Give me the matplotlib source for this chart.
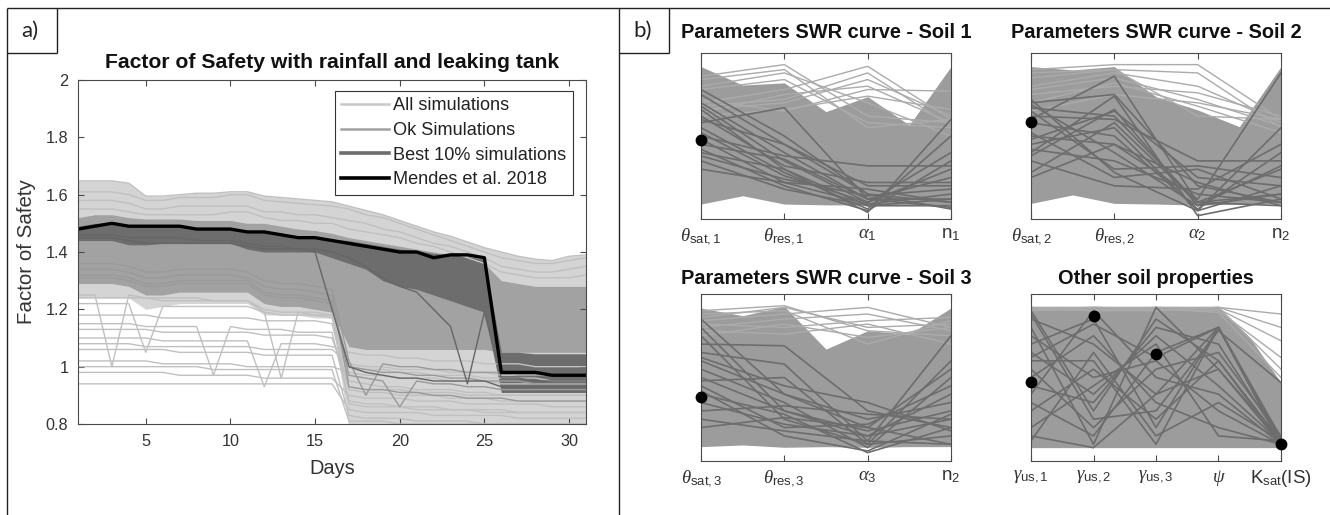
import matplotlib
matplotlib.use("Agg")
import matplotlib.pyplot as plt
from matplotlib.lines import Line2D

plt.rcParams['font.family'] = ['Liberation Sans', 'DejaVu Sans']
plt.rcParams['mathtext.fontset'] = 'custom'
plt.rcParams['mathtext.rm'] = 'Liberation Sans'
plt.rcParams['mathtext.it'] = 'Liberation Serif:italic'
plt.rcParams['mathtext.bf'] = 'Liberation Sans:bold'

# ---------------- data: panel a (factor of safety over 31 days) ----------------
days = list(range(1, 32))

mendes_2018 = [1.48, 1.49, 1.50, 1.49, 1.49, 1.49, 1.49, 1.48, 1.48, 1.48, 1.47,
               1.47, 1.46, 1.45, 1.45, 1.44, 1.43, 1.42, 1.41, 1.40, 1.40, 1.38,
               1.39, 1.39, 1.38, 0.98, 0.98, 0.98, 0.97, 0.97, 0.97]

all_upper = [1.648, 1.648, 1.648, 1.64, 1.595, 1.595, 1.60, 1.605, 1.605, 1.61, 1.61,
             1.595, 1.59, 1.585, 1.58, 1.575, 1.56, 1.545, 1.53, 1.51, 1.49, 1.47,
             1.455, 1.435, 1.415, 1.40, 1.385, 1.375, 1.37, 1.385, 1.39]
all_dense_lower = [1.24, 1.24, 1.24, 1.24, 1.20, 1.21, 1.22, 1.22, 1.22, 1.22, 1.22,
                   1.18, 1.18, 1.18, 1.17, 1.17, 0.78, 0.78, 0.78, 0.78, 0.78, 0.78,
                   0.78, 0.78, 0.78, 0.78, 0.78, 0.78, 0.78, 0.78, 0.78]

ok_upper = [1.52, 1.53, 1.53, 1.52, 1.515, 1.515, 1.515, 1.51, 1.51, 1.51, 1.50,
            1.50, 1.49, 1.48, 1.475, 1.465, 1.45, 1.44, 1.43, 1.42, 1.41, 1.40,
            1.39, 1.38, 1.36, 1.30, 1.29, 1.28, 1.28, 1.28, 1.28]
ok_lower = [1.29, 1.29, 1.29, 1.28, 1.25, 1.25, 1.26, 1.26, 1.26, 1.26, 1.26,
            1.22, 1.21, 1.21, 1.20, 1.19, 1.07, 1.06, 1.06, 1.06, 1.06, 1.06,
            1.06, 1.06, 1.06, 1.05, 1.05, 1.05, 1.05, 1.05, 1.05]

best_upper = [1.49, 1.50, 1.50, 1.495, 1.49, 1.49, 1.49, 1.485, 1.485, 1.485, 1.475,
              1.475, 1.465, 1.455, 1.455, 1.445, 1.44, 1.43, 1.42, 1.41, 1.405, 1.395,
              1.39, 1.385, 1.375, 1.05, 1.05, 1.045, 1.045, 1.045, 1.045]
best_lower = [1.44, 1.44, 1.44, 1.425, 1.425, 1.43, 1.43, 1.43, 1.43, 1.43, 1.41,
              1.40, 1.40, 1.40, 1.40, 1.38, 1.36, 1.34, 1.30, 1.28, 1.27, 1.25,
              1.23, 1.21, 1.19, 0.91, 0.91, 0.91, 0.91, 0.91, 0.91]

upper_runs = [
    [1.61, 1.61, 1.61, 1.60, 1.58, 1.58, 1.59, 1.59, 1.59, 1.60, 1.60, 1.58, 1.575, 1.57, 1.565, 1.56,
     1.55, 1.53, 1.52, 1.50, 1.48, 1.46, 1.44, 1.42, 1.40, 1.38, 1.37, 1.36, 1.36, 1.37, 1.38],
    [1.58, 1.58, 1.58, 1.57, 1.55, 1.55, 1.56, 1.56, 1.56, 1.56, 1.56, 1.54, 1.54, 1.53, 1.53, 1.52,
     1.51, 1.50, 1.48, 1.47, 1.45, 1.43, 1.42, 1.40, 1.38, 1.35, 1.34, 1.33, 1.33, 1.34, 1.35],
    [1.55, 1.55, 1.55, 1.54, 1.53, 1.53, 1.53, 1.53, 1.53, 1.54, 1.54, 1.52, 1.51, 1.51, 1.50, 1.50,
     1.48, 1.47, 1.46, 1.45, 1.43, 1.42, 1.40, 1.38, 1.36, 1.33, 1.32, 1.31, 1.31, 1.31, 1.32],
]

sparse_runs = [
    [1.25, 1.25, 1.00, 1.25, 1.24, 1.24, 1.24, 1.24, 1.23, 1.23, 1.23, 1.20, 1.19, 1.19, 1.19, 1.18,
     0.95, 0.94, 0.93, 0.93, 0.92, 0.92, 0.92, 0.91, 0.91, 0.90, 0.90, 0.90, 0.90, 0.90, 0.90],
    [1.22, 1.22, 1.22, 1.22, 1.05, 1.21, 1.21, 1.21, 1.21, 1.21, 1.21, 1.19, 1.18, 1.18, 1.18, 1.17,
     1.00, 0.99, 0.99, 0.98, 0.98, 0.97, 0.97, 0.97, 0.96, 0.96, 0.96, 0.96, 0.95, 0.95, 0.95],
    [1.15, 1.15, 1.15, 1.15, 1.14, 1.14, 1.14, 1.14, 0.97, 1.14, 1.13, 1.13, 1.13, 1.12, 1.12, 1.12,
     0.88, 0.87, 0.87, 0.86, 0.86, 0.86, 0.85, 0.85, 0.85, 0.85, 0.84, 0.84, 0.84, 0.84, 0.84],
    [1.10, 1.10, 1.10, 1.10, 1.10, 1.09, 1.09, 1.09, 1.09, 1.09, 1.09, 0.93, 1.08, 1.08, 1.08, 1.07,
     1.05, 1.04, 1.04, 1.03, 1.03, 1.02, 1.02, 1.02, 1.01, 1.01, 1.01, 1.00, 1.00, 1.00, 1.00],
    [1.06, 1.06, 1.06, 1.06, 1.06, 1.06, 1.05, 1.05, 1.05, 1.05, 1.05, 1.04, 1.04, 1.04, 1.04, 1.04,
     0.83, 0.82, 0.82, 0.82, 0.81, 0.81, 0.81, 0.81, 0.80, 0.80, 0.80, 0.80, 0.80, 0.80, 0.80],
    [1.02, 1.02, 1.02, 1.02, 1.02, 1.01, 1.01, 1.01, 1.01, 1.01, 1.00, 1.00, 1.00, 1.00, 1.00, 1.00,
     0.98, 0.97, 0.97, 0.96, 0.96, 0.96, 0.95, 0.95, 0.95, 0.94, 0.94, 0.94, 0.94, 0.94, 0.94],
    [0.98, 0.98, 0.98, 0.98, 0.98, 0.98, 0.97, 0.97, 0.97, 0.97, 0.97, 0.96, 0.96, 0.96, 0.96, 0.96,
     0.90, 0.89, 0.89, 0.89, 0.88, 0.88, 0.88, 0.87, 0.87, 0.87, 0.87, 0.87, 0.86, 0.86, 0.86],
    [0.94, 0.94, 0.94, 0.94, 0.94, 0.94, 0.94, 0.94, 0.94, 0.94, 0.94, 0.94, 0.94, 0.94, 0.94, 0.94,
     0.85, 0.84, 0.84, 0.84, 0.84, 0.83, 0.83, 0.83, 0.83, 0.83, 0.82, 0.82, 0.82, 0.82, 0.82],
    [1.18, 1.18, 1.18, 1.18, 1.18, 1.17, 1.17, 1.17, 1.17, 1.17, 1.17, 1.16, 1.16, 1.16, 1.16, 1.15,
     0.92, 0.91, 0.91, 0.90, 0.90, 0.90, 0.89, 0.89, 0.89, 0.88, 0.88, 0.88, 0.88, 0.88, 0.88],
    [1.08, 1.08, 1.08, 1.08, 1.07, 1.07, 1.07, 1.07, 1.07, 1.07, 1.07, 1.06, 1.06, 1.06, 1.06, 1.06,
     1.01, 1.00, 1.00, 0.99, 0.99, 0.99, 0.98, 0.98, 0.98, 0.97, 0.97, 0.97, 0.97, 0.97, 0.97],
    [1.00, 1.00, 1.00, 1.00, 1.00, 1.00, 1.00, 1.00, 0.99, 0.99, 0.99, 0.99, 0.99, 0.99, 0.99, 0.99,
     0.81, 0.81, 0.81, 0.80, 0.80, 0.80, 0.80, 0.80, 0.80, 0.80, 0.80, 0.80, 0.80, 0.80, 0.80],
    [1.24, 1.24, 1.24, 1.24, 1.24, 1.23, 1.23, 1.23, 1.23, 1.23, 1.23, 1.19, 0.96, 1.19, 1.18, 1.18,
     0.87, 0.86, 0.86, 0.86, 0.85, 0.85, 0.85, 0.85, 0.84, 0.84, 0.84, 0.84, 0.84, 0.84, 0.84],
    [1.13, 1.13, 1.13, 1.13, 1.13, 1.12, 1.12, 1.12, 1.12, 1.12, 1.12, 1.11, 1.11, 1.11, 1.11, 1.10,
     0.93, 0.92, 0.92, 0.92, 0.91, 0.91, 0.91, 0.90, 0.90, 0.90, 0.90, 0.90, 0.90, 0.90, 0.90],
]

ok_runs = [
    [1.31, 1.31, 1.31, 1.30, 1.28, 1.28, 1.29, 1.29, 1.29, 1.29, 1.29, 1.25, 1.24, 1.24, 1.23, 1.22,
     1.00, 0.99, 0.98, 0.98, 0.97, 0.97, 0.96, 0.96, 0.95, 0.95, 0.95, 0.94, 0.94, 0.94, 0.94],
    [1.34, 1.34, 1.34, 1.33, 1.31, 1.31, 1.32, 1.32, 1.32, 1.32, 1.31, 1.28, 1.27, 1.27, 1.26, 1.25,
     0.93, 0.92, 0.92, 0.91, 0.91, 0.90, 0.90, 0.89, 0.89, 0.89, 0.88, 0.88, 0.88, 0.88, 0.88],
    [1.36, 1.36, 1.36, 1.35, 1.33, 1.33, 1.34, 1.34, 1.34, 1.34, 1.33, 1.30, 1.29, 1.29, 1.28, 1.27,
     1.02, 0.90, 1.01, 1.00, 1.00, 0.99, 0.99, 0.98, 0.98, 0.98, 0.97, 0.97, 0.97, 0.97, 0.97],
    [1.32, 1.32, 1.32, 1.31, 1.29, 1.29, 1.30, 1.30, 1.30, 1.30, 1.30, 1.26, 1.25, 1.25, 1.24, 1.23,
     0.97, 0.96, 0.95, 0.86, 0.95, 0.94, 0.94, 0.93, 0.93, 0.92, 0.92, 0.92, 0.92, 0.92, 0.92],
]

best_runs = [
    [1.46, 1.46, 1.46, 1.45, 1.45, 1.45, 1.45, 1.44, 1.44, 1.44, 1.43, 1.42, 1.42, 1.41, 1.41, 1.40,
     1.38, 1.35, 1.31, 1.28, 1.26, 1.20, 1.14, 0.94, 1.19, 0.96, 0.96, 0.95, 0.95, 0.95, 0.95],
    [1.45, 1.45, 1.45, 1.44, 1.43, 1.43, 1.43, 1.43, 1.43, 1.43, 1.42, 1.41, 1.41, 1.41, 1.40, 1.20,
     1.00, 0.98, 0.97, 0.96, 0.96, 0.95, 0.95, 0.95, 0.95, 0.93, 0.93, 0.93, 0.93, 0.93, 0.93],
]

# ---------------- data: panel b (normalised parameter values) ----------------
env_x4 = [1, 1.5, 2, 2.5, 3, 3.5, 4]
env_x5 = [1, 1.5, 2, 2.5, 3, 3.5, 4, 4.5, 5]

soil1_labels = [r'$\theta_{\mathrm{sat,1}}$', r'$\theta_{\mathrm{res,1}}$', r'$\alpha_{1}$', r'$\mathrm{n}_{1}$']
soil1_upper = [0.918, 0.807, 0.82, 0.647, 0.737, 0.566, 0.918]
soil1_lower = [0.09, 0.14, 0.09, 0.085, 0.085, 0.085, 0.085]
soil1_all = [[0.86, 0.93, 0.62, 0.58], [0.84, 0.90, 0.55, 0.60], [0.80, 0.88, 0.70, 0.50],
             [0.78, 0.84, 0.58, 0.55], [0.70, 0.78, 0.92, 0.60], [0.68, 0.72, 0.88, 0.56],
             [0.66, 0.70, 0.84, 0.62], [0.64, 0.75, 0.80, 0.58], [0.72, 0.65, 0.78, 0.77],
             [0.62, 0.66, 0.74, 0.66]]
soil1_best = [[0.75, 0.45, 0.15, 0.10], [0.70, 0.40, 0.12, 0.12], [0.68, 0.35, 0.10, 0.30],
              [0.66, 0.30, 0.08, 0.08], [0.62, 0.32, 0.22, 0.22], [0.60, 0.45, 0.20, 0.20],
              [0.58, 0.67, 0.12, 0.07], [0.55, 0.28, 0.06, 0.50], [0.52, 0.26, 0.10, 0.40],
              [0.50, 0.38, 0.32, 0.32], [0.48, 0.22, 0.09, 0.15], [0.45, 0.36, 0.12, 0.25],
              [0.42, 0.20, 0.05, 0.35], [0.38, 0.24, 0.14, 0.18], [0.35, 0.18, 0.08, 0.12],
              [0.30, 0.22, 0.18, 0.10], [0.78, 0.50, 0.15, 0.06], [0.40, 0.30, 0.04, 0.60]]
soil1_mendes = [0.476, None, None, None]

soil2_labels = [r'$\theta_{\mathrm{sat,2}}$', r'$\theta_{\mathrm{res,2}}$', r'$\alpha_{2}$', r'$\mathrm{n}_{2}$']
soil2_upper = [0.918, 0.898, 0.918, 0.737, 0.657, 0.556, 0.918]
soil2_lower = [0.094, 0.145, 0.094, 0.09, 0.084, 0.09, 0.09]
soil2_all = [[0.90, 0.93, 0.93, 0.60], [0.85, 0.90, 0.88, 0.55], [0.80, 0.88, 0.80, 0.58],
             [0.78, 0.85, 0.72, 0.56], [0.75, 0.80, 0.76, 0.62], [0.70, 0.82, 0.68, 0.52],
             [0.65, 0.75, 0.70, 0.60], [0.88, 0.90, 0.62, 0.60]]
soil2_best = [[0.70, 0.75, 0.20, 0.10], [0.69, 0.40, 0.08, 0.15], [0.67, 0.62, 0.10, 0.30],
              [0.65, 0.30, 0.32, 0.25], [0.60, 0.86, 0.10, 0.08], [0.58, 0.50, 0.06, 0.40],
              [0.50, 0.45, 0.12, 0.88], [0.52, 0.25, 0.30, 0.12], [0.48, 0.65, 0.25, 0.20],
              [0.45, 0.55, 0.05, 0.55], [0.42, 0.35, 0.15, 0.10], [0.38, 0.66, 0.08, 0.32],
              [0.35, 0.20, 0.18, 0.45], [0.28, 0.58, 0.10, 0.15], [0.25, 0.45, 0.22, 0.08],
              [0.72, 0.28, 0.05, 0.20], [0.62, 0.60, 0.35, 0.35], [0.40, 0.74, 0.02, 0.12]]
soil2_mendes = [0.586, None, None, None]

soil3_labels = [r'$\theta_{\mathrm{sat,3}}$', r'$\theta_{\mathrm{res,3}}$', r'$\alpha_{3}$', r'$\mathrm{n}_{2}$']
soil3_upper = [0.916, 0.87, 0.926, 0.67, 0.78, 0.76, 0.916]
soil3_lower = [0.086, 0.096, 0.082, 0.086, 0.082, 0.086, 0.086]
soil3_all = [[0.86, 0.92, 0.80, 0.82], [0.88, 0.90, 0.70, 0.84], [0.84, 0.88, 0.92, 0.80],
             [0.80, 0.85, 0.88, 0.78], [0.82, 0.80, 0.84, 0.86], [0.78, 0.76, 0.82, 0.70],
             [0.75, 0.82, 0.74, 0.80], [0.90, 0.93, 0.78, 0.75]]
soil3_best = [[0.85, 0.40, 0.20, 0.10], [0.80, 0.30, 0.15, 0.25], [0.75, 0.25, 0.10, 0.60],
              [0.70, 0.69, 0.30, 0.20], [0.65, 0.58, 0.12, 0.75], [0.60, 0.40, 0.25, 0.35],
              [0.55, 0.35, 0.08, 0.50], [0.50, 0.30, 0.18, 0.30], [0.48, 0.50, 0.10, 0.15],
              [0.45, 0.20, 0.22, 0.45], [0.40, 0.28, 0.05, 0.20], [0.35, 0.22, 0.15, 0.40],
              [0.30, 0.33, 0.28, 0.25], [0.25, 0.18, 0.12, 0.10], [0.20, 0.26, 0.20, 0.55],
              [0.62, 0.45, 0.35, 0.18], [0.42, 0.15, 0.06, 0.28]]
soil3_mendes = [0.382, None, None, None]

other_labels = [r'$\gamma_{\mathrm{us,1}}$', r'$\gamma_{\mathrm{us,2}}$', r'$\gamma_{\mathrm{us,3}}$',
                r'$\psi$', r'$\mathrm{K}_{\mathrm{sat}}\mathrm{(IS)}$']
other_upper = [0.92, 0.92, 0.92, 0.92, 0.92, 0.92, 0.92, 0.74, 0.47]
other_lower = [0.08, 0.08, 0.08, 0.08, 0.08, 0.08, 0.08, 0.08, 0.08]
other_all = [[0.92, 0.92, 0.92, 0.92, 0.88], [0.90, 0.91, 0.90, 0.92, 0.80],
             [0.91, 0.90, 0.92, 0.91, 0.72], [0.90, 0.92, 0.91, 0.90, 0.62],
             [0.92, 0.90, 0.90, 0.92, 0.55], [0.91, 0.92, 0.91, 0.89, 0.50]]
other_best = [[0.90, 0.30, 0.85, 0.60, 0.12], [0.85, 0.70, 0.40, 0.80, 0.10],
              [0.80, 0.10, 0.92, 0.55, 0.12], [0.75, 0.50, 0.60, 0.30, 0.10],
              [0.70, 0.85, 0.20, 0.80, 0.12], [0.65, 0.40, 0.75, 0.45, 0.11],
              [0.60, 0.60, 0.10, 0.80, 0.10], [0.55, 0.20, 0.55, 0.65, 0.15],
              [0.50, 0.75, 0.35, 0.20, 0.10], [0.45, 0.35, 0.80, 0.70, 0.12],
              [0.40, 0.90, 0.50, 0.40, 0.10], [0.35, 0.15, 0.65, 0.80, 0.11],
              [0.30, 0.55, 0.25, 0.60, 0.10], [0.20, 0.45, 0.70, 0.15, 0.12],
              [0.15, 0.08, 0.40, 0.55, 0.10], [0.12, 0.65, 0.15, 0.35, 0.12],
              [0.88, 0.25, 0.30, 0.78, 0.47], [0.62, 0.82, 0.62, 0.80, 0.14]]
other_mendes = [0.476, 0.866, 0.64, None, 0.10]

# ---------------- styling ----------------
C_ALL = '#d4d4d4'
C_ALL_LINE = '#c0c0c0'
C_OK = '#a2a2a2'
C_BEST = '#6d6d6d'
C_FILL_B = '#9c9c9c'
C_FAINT_B = '#ababab'
SPINE = '#4a4a4a'
TXT = '#333333'

W, H = 1330, 515
fig = plt.figure(figsize=(W / 100, H / 100), dpi=100)


def px_axes(left, top, right, bottom):
    return fig.add_axes([left / W, 1 - bottom / H, (right - left) / W, (bottom - top) / H])


def ftext(x, y, s, **kw):
    fig.text(x / W, 1 - y / H, s, **kw)


# frame lines around the two panels
deco = fig.add_axes([0, 0, 1, 1])
deco.set_xlim(0, W)
deco.set_ylim(H, 0)
deco.axis('off')
for xs, ys in [([7, 1330], [8, 8]), ([7, 7], [8, 515]), ([619, 619], [8, 515]),
               ([7, 57], [53, 53]), ([57, 57], [8, 53]),
               ([619, 669], [53, 53]), ([669, 669], [8, 53])]:
    deco.plot(xs, ys, color='#222222', lw=1.0, solid_capstyle='butt')
ftext(30, 31, 'a)', fontsize=16, family=['Lato', 'DejaVu Sans'], ha='center', va='center', color='#222222')
ftext(643, 31, 'b)', fontsize=16, family=['Lato', 'DejaVu Sans'], ha='center', va='center', color='#222222')

# ---------------- panel a ----------------
ax = px_axes(78, 80, 586, 424)
ax.fill_between(days, all_dense_lower, all_upper, color=C_ALL, lw=0)
for run in upper_runs + sparse_runs:
    ax.plot(days, run, color=C_ALL_LINE, lw=1.0)
ax.plot(days, all_upper, color=C_ALL_LINE, lw=1.0)
ax.fill_between(days, ok_lower, ok_upper, color=C_OK, lw=0)
for run in ok_runs:
    ax.plot(days, run, color='#9a9a9a', lw=1.0)
ax.fill_between(days, best_lower, best_upper, color=C_BEST, lw=0)
for run in best_runs:
    ax.plot(days, run, color='#666666', lw=1.0)
ax.plot(days, mendes_2018, color='black', lw=2.4)

ax.set_xlim(1, 31)
ax.set_ylim(0.8, 2)
ax.set_xticks([5, 10, 15, 20, 25, 30])
ax.set_yticks([0.8, 1.0, 1.2, 1.4, 1.6, 1.8, 2.0])
ax.set_yticklabels(['0.8', '1', '1.2', '1.4', '1.6', '1.8', '2'])
ax.tick_params(direction='in', length=4, top=True, right=True, labelsize=11.7,
               labelcolor=TXT, color=SPINE, pad=7)
for sp in ax.spines.values():
    sp.set_color(SPINE)
    sp.set_linewidth(0.8)
ftext(332, 468, 'Days', fontsize=14.4, color=TXT, ha='center', va='center')
ftext(27, 252, 'Factor of Safety', fontsize=14.8, color=TXT, ha='center', va='center',
      rotation=90)
ftext(332, 63, 'Factor of Safety with rainfall and leaking tank', fontsize=15.2,
      fontweight='bold', ha='center', va='center', color='#111111')

handles = [Line2D([], [], color='#c8c8c8', lw=1.8),
           Line2D([], [], color=C_OK, lw=1.8),
           Line2D([], [], color=C_BEST, lw=2.6),
           Line2D([], [], color='black', lw=2.6)]
leg = ax.legend(handles, ['All simulations', 'Ok Simulations', 'Best 10% simulations',
                          'Mendes et al. 2018'],
                loc='upper right', bbox_to_anchor=(0.974, 0.968), borderaxespad=0,
                fontsize=13.1, fancybox=False, framealpha=1, edgecolor='#333333',
                handlelength=2.6, handletextpad=0.25, labelspacing=0.42, borderpad=0.35)
leg.get_frame().set_linewidth(0.8)
for t in leg.get_texts():
    t.set_color('#222222')


# ---------------- panel b ----------------
def parallel(box, env_x, upper, lower, faint, best, mendes, labels, title, title_y):
    a = px_axes(*box)
    n = len(labels)
    xs = list(range(1, n + 1))
    a.fill_between(env_x, lower, upper, color=C_FILL_B, lw=0)
    for run in faint:
        a.plot(xs, run, color=C_FAINT_B, lw=1.0)
    for run in best:
        a.plot(xs, run, color=C_BEST, lw=1.2)
    mx = [x for x, v in zip(xs, mendes) if v is not None]
    my = [v for v in mendes if v is not None]
    a.plot(mx, my, 'o', color='black', ms=7.5, clip_on=False, zorder=5)
    a.set_xlim(1, n)
    a.set_ylim(0, 1)
    a.set_yticks([])
    a.set_xticks(xs)
    a.set_xticklabels(labels)
    a.tick_params(axis='x', direction='in', length=4, top=True, labelsize=13.5,
                  labelcolor=TXT, color=SPINE, pad=5)
    for sp in a.spines.values():
        sp.set_color(SPINE)
        sp.set_linewidth(0.8)
    cx = (box[0] + box[2]) / 2
    ftext(cx, title_y, title, fontsize=14.4, fontweight='bold', ha='center', va='center',
          color='#111111')
    return a


parallel((701, 53, 951, 219), env_x4, soil1_upper, soil1_lower, soil1_all, soil1_best,
         soil1_mendes, soil1_labels, 'Parameters SWR curve - Soil 1', 33)
parallel((1031, 53, 1281, 219), env_x4, soil2_upper, soil2_lower, soil2_all, soil2_best,
         soil2_mendes, soil2_labels, 'Parameters SWR curve - Soil 2', 33)
parallel((701, 294, 951, 461), env_x4, soil3_upper, soil3_lower, soil3_all, soil3_best,
         soil3_mendes, soil3_labels, 'Parameters SWR curve - Soil 3', 278)
parallel((1031, 294, 1281, 461), env_x5, other_upper, other_lower, other_all, other_best,
         other_mendes, other_labels, 'Other soil properties', 278)

fig.savefig('out.png', dpi=100)
